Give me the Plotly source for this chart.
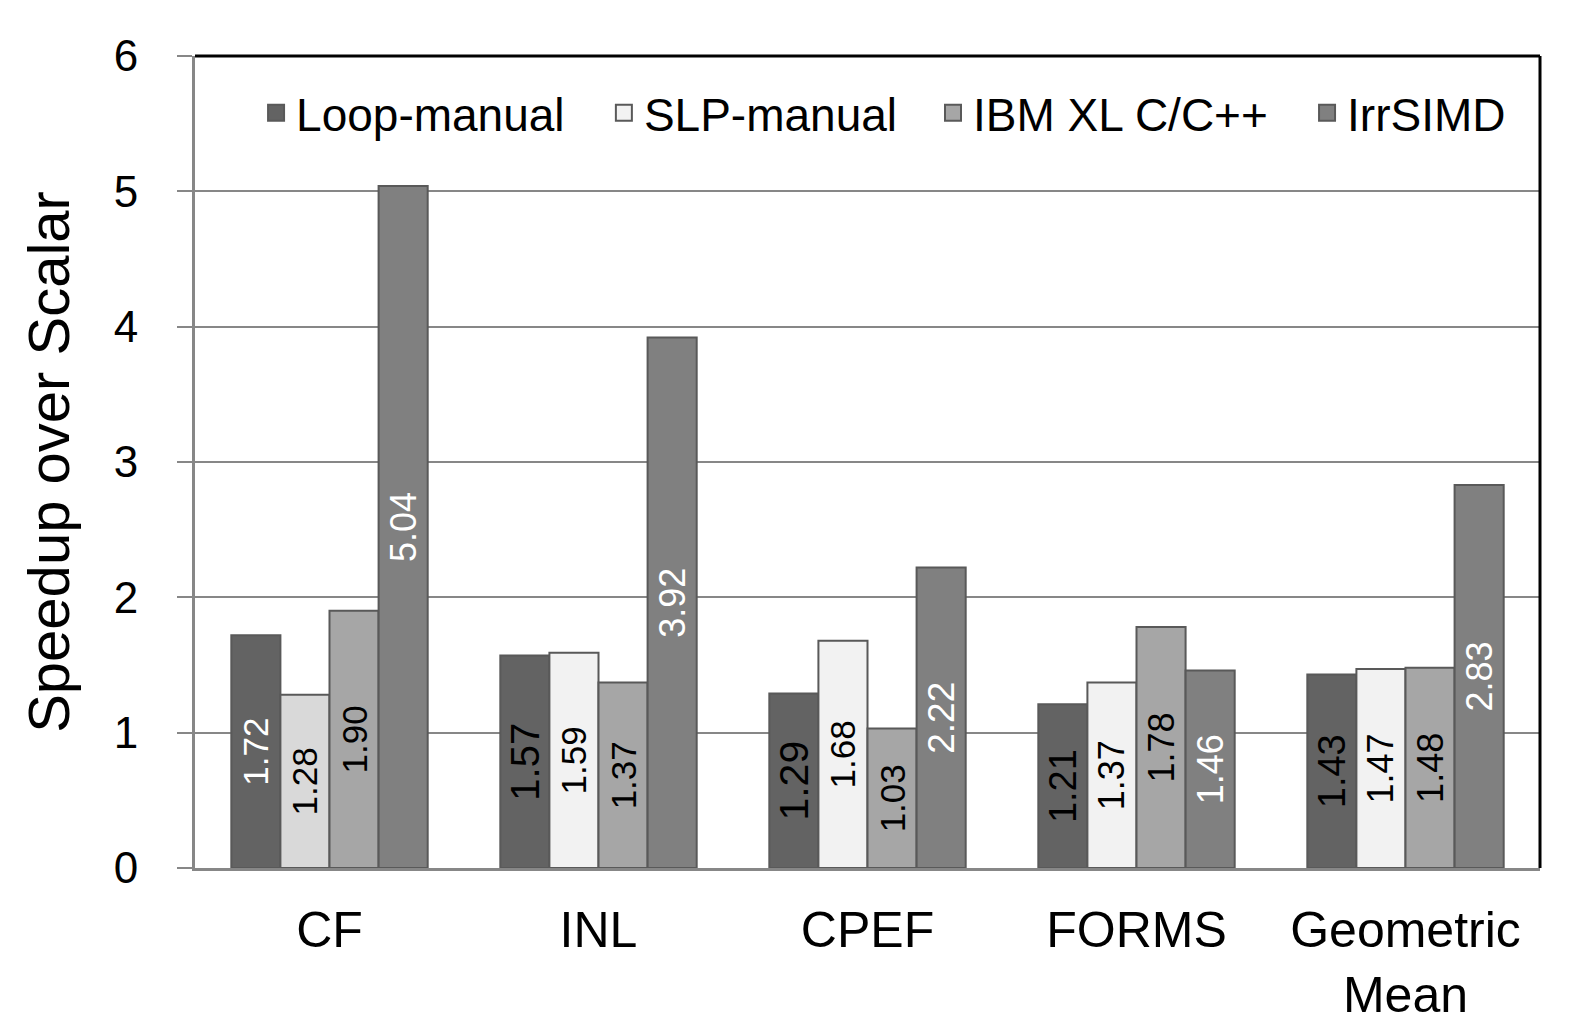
import plotly.graph_objects as go

categories = ["CF", "INL", "CPEF", "FORMS", "Geometric<br>Mean"]
series_names = ["Loop-manual", "SLP-manual", "IBM XL C/C++", "IrrSIMD"]

loop_manual = [1.72, 1.57, 1.29, 1.21, 1.43]
slp_manual = [1.28, 1.59, 1.68, 1.37, 1.47]
ibm_xl = [1.90, 1.37, 1.03, 1.78, 1.48]
irrsimd = [5.04, 3.92, 2.22, 1.46, 2.83]

loop_labels = ["1.72", "1.57", "1.29", "1.21", "1.43"]
slp_labels = ["1.28", "1.59", "1.68", "1.37", "1.47"]
ibm_labels = ["1.90", "1.37", "1.03", "1.78", "1.48"]
irr_labels = ["5.04", "3.92", "2.22", "1.46", "2.83"]

y_ticks = [0, 1, 2, 3, 4, 5, 6]

FONT = "Liberation Sans, Arial, sans-serif"
OUTLINE = "#595959"

series = [
    dict(name=series_names[0], y=loop_manual, text=loop_labels,
         fill=["#636363"] * 5, legend_fill="#636363",
         tcolor=["white", "black", "black", "black", "black"],
         tsize=[35, 40, 41, 38, 38], legend="legend", lx=0.0454),
    dict(name=series_names[1], y=slp_manual, text=slp_labels,
         fill=["#d9d9d9", "#f2f2f2", "#f2f2f2", "#f2f2f2", "#f2f2f2"], legend_fill="#f2f2f2",
         tcolor=["black"] * 5, tsize=[35, 35, 35, 36, 36], legend="legend2", lx=0.304),
    dict(name=series_names[2], y=ibm_xl, text=ibm_labels,
         fill=["#a6a6a6"] * 5, legend_fill="#a6a6a6",
         tcolor=["black"] * 5, tsize=[35, 35, 35, 36, 36], legend="legend3", lx=0.5487),
    dict(name=series_names[3], y=irrsimd, text=irr_labels,
         fill=["#808080"] * 5, legend_fill="#808080",
         tcolor=["white"] * 5, tsize=[36, 36, 37, 36, 36], legend="legend4", lx=0.8268),
]

fig = go.Figure()
for s in series:
    fig.add_trace(go.Bar(
        x=categories, y=s["y"], name=s["name"], showlegend=False,
        text=s["text"], textposition="inside", textangle=-90,
        insidetextanchor="middle", constraintext="none",
        textfont=dict(family=FONT, color=s["tcolor"], size=s["tsize"]),
        marker=dict(color=s["fill"], line=dict(color=OUTLINE, width=2)),
        hoverinfo="skip",
    ))

legend_layouts = {}
for s in series:
    fig.add_trace(go.Scatter(
        x=[None], y=[None], mode="markers", name=s["name"], showlegend=True,
        legend=s["legend"],
        marker=dict(symbol="square", size=16, color=s["legend_fill"],
                    line=dict(color=OUTLINE, width=2)),
    ))
    legend_layouts[s["legend"]] = dict(
        orientation="h", x=s["lx"], y=0.93, xanchor="left", yanchor="middle",
        font=dict(size=46, family=FONT, color="black"), bgcolor="rgba(0,0,0,0)",
        itemwidth=30)

fig.update_layout(
    width=1590, height=1022,
    margin=dict(l=195, r=50, t=56, b=154, autoexpand=False),
    paper_bgcolor="white", plot_bgcolor="white",
    barmode="group", bargap=0.27, bargroupgap=0,
    font=dict(family=FONT, color="black", size=40),
    xaxis=dict(showline=True, linecolor="#878787", linewidth=3, ticks="",
               tickfont=dict(size=50, family=FONT), ticklabelstandoff=16,
               showgrid=False, automargin=False),
    yaxis=dict(range=[0, 6], tickvals=y_ticks, showline=True, linecolor="#878787",
               linewidth=3, ticks="outside", ticklen=15, tickcolor="#878787",
               tickwidth=2, showgrid=True, gridcolor="#878787", gridwidth=2,
               tickfont=dict(size=44, family=FONT), ticklabelstandoff=30,
               title=dict(text="Speedup over Scalar", font=dict(size=58, family=FONT),
                          standoff=26),
               zeroline=False, automargin=False),
    shapes=[
        dict(type="line", xref="paper", yref="paper", x0=0, x1=1, y0=1, y1=1,
             line=dict(color="black", width=3)),
        dict(type="line", xref="paper", yref="paper", x0=1, x1=1, y0=0, y1=1,
             line=dict(color="black", width=3)),
    ],
    **legend_layouts,
)

fig.write_html("out.html")
